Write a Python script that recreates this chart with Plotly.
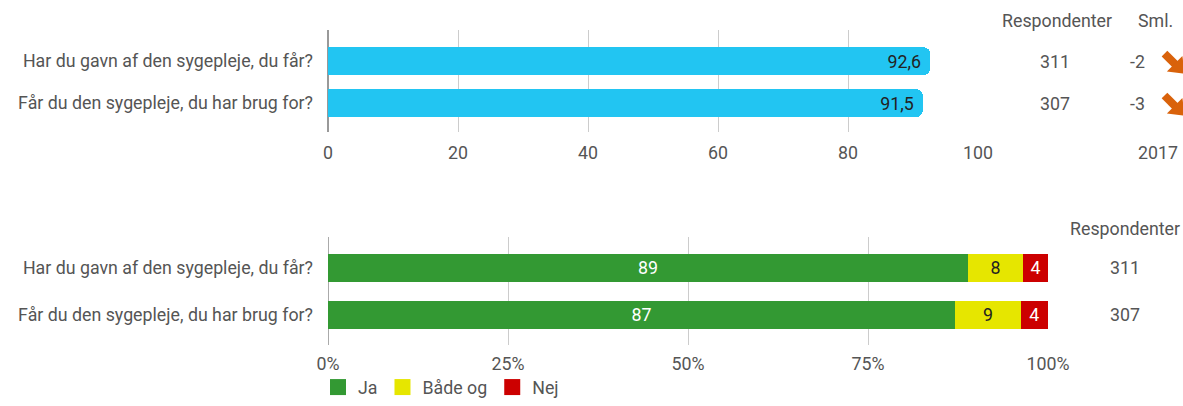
import plotly.graph_objects as go

# ---- data ----
questions = ["Har du gavn af den sygepleje, du får?", "Får du den sygepleje, du har brug for?"]
scores = [92.6, 91.5]
score_labels = ["92,6", "91,5"]
respondents_top = [311, 307]
sml_values = ["-2", "-3"]
sml_year = "2017"
score_ticks = [0, 20, 40, 60, 80, 100]

ja = [88.9, 87.1]
baade = [7.6, 9.1]
nej = [3.5, 3.8]
respondents_bottom = [311, 307]
pct_ticks = [0, 25, 50, 75, 100]
pct_labels = ["0%", "25%", "50%", "75%", "100%"]

W, H = 1183, 406
FONT = "Roboto, Open Sans, sans-serif"
GREY = "#555555"
FS = 17.8
ORANGE = "#d9620b"

def px(x):
    return x / W

def py(y):
    return 1 - y / H

fig = go.Figure()

# top chart
fig.add_trace(go.Bar(
    y=questions, x=scores, orientation="h", xaxis="x", yaxis="y",
    marker=dict(color="#22c5f2", line=dict(width=0), cornerradius=6),
    text=score_labels, texttemplate="%{text}\u00a0", textposition="inside",
    insidetextanchor="end",
    textfont=dict(color="#222222", size=FS, family=FONT),
    width=0.66, showlegend=False, hoverinfo="skip",
))

# bottom stacked chart
series = [("Ja", ja, "#339933", "white"),
          ("Både og", baade, "#e6e600", "#222222"),
          ("Nej", nej, "#cc0000", "white")]
for name, vals, col, tcol in series:
    fig.add_trace(go.Bar(
        y=questions, x=vals, orientation="h", name=name, xaxis="x2", yaxis="y2",
        marker=dict(color=col, line=dict(width=0), cornerradius=0),
        text=[f"{v:.0f}" for v in vals], textposition="inside", insidetextanchor="middle",
        textangle=0,
        textfont=dict(color=tcol, size=FS, family=FONT),
        width=0.58, hoverinfo="skip", constraintext="none", showlegend=False,
    ))
# legend entries with larger square symbols
for name, vals, col, tcol in series:
    fig.add_trace(go.Scatter(
        x=[None], y=[None], xaxis="x2", yaxis="y2", mode="markers", name=name,
        marker=dict(symbol="square", size=16, color=col, line=dict(width=0)),
        showlegend=True, hoverinfo="skip",
    ))

# arrows for Sml. (decline indicator): stem + head
fig.add_trace(go.Scatter(
    x=[1.0] * len(questions), y=questions, xaxis="x3", yaxis="y3", mode="markers",
    marker=dict(symbol="line-ns", angle=135, size=13, standoff=10,
                color=ORANGE, line=dict(width=8, color=ORANGE)),
    showlegend=False, hoverinfo="skip", cliponaxis=False,
))
fig.add_trace(go.Scatter(
    x=[1.0] * len(questions), y=questions, xaxis="x3", yaxis="y3", mode="markers",
    marker=dict(symbol="triangle-up", angle=135, size=19, color=ORANGE, line=dict(width=0)),
    showlegend=False, hoverinfo="skip", cliponaxis=False,
))

top_dom = [py(132), py(30)]
bot_dom = [py(345), py(237)]
arrow_dom = [py(138), py(36)]

fig.update_layout(
    width=W, height=H,
    margin=dict(l=0, r=0, t=0, b=0),
    paper_bgcolor="white", plot_bgcolor="white",
    font=dict(family=FONT, size=FS, color=GREY),
    barmode="stack",
    xaxis=dict(domain=[px(328), px(978)], range=[0, 100], tickvals=score_ticks,
               showgrid=True, gridcolor="#cccccc", gridwidth=1,
               zeroline=True, zerolinecolor="#999999", zerolinewidth=2,
               showline=False, ticks="", ticklabelstandoff=8, anchor="y", automargin=False,
               tickfont=dict(size=FS, color=GREY)),
    yaxis=dict(domain=top_dom, range=[1.69, -0.74], type="category",
               showgrid=False, zeroline=False, showline=False, ticks="", automargin=False,
               ticklabelstandoff=14, anchor="x", tickfont=dict(size=FS, color=GREY)),
    xaxis2=dict(domain=[px(328), px(1048)], range=[0, 100], tickvals=pct_ticks,
                ticktext=pct_labels, showgrid=True, gridcolor="#cccccc", gridwidth=1,
                zeroline=True, zerolinecolor="#aaaaaa", zerolinewidth=1, automargin=False,
                showline=False, ticks="", ticklabelstandoff=6, anchor="y2",
                tickfont=dict(size=FS, color=GREY)),
    yaxis2=dict(domain=bot_dom, range=[1.64, -0.66], type="category", automargin=False,
                showgrid=False, zeroline=False, showline=False, ticks="",
                ticklabelstandoff=14, anchor="x2", tickfont=dict(size=FS, color=GREY)),
    xaxis3=dict(domain=[px(1146), px(1178)], range=[0, 1], visible=False, anchor="y3",
                automargin=False),
    yaxis3=dict(domain=arrow_dom, range=[1.69, -0.74], type="category", visible=False,
                anchor="x3", categoryarray=questions, automargin=False),
    legend=dict(orientation="h", x=px(318), xanchor="left", y=0, yanchor="bottom",
                font=dict(size=FS, color=GREY), traceorder="normal", itemsizing="trace",
                bgcolor="rgba(0,0,0,0)", itemwidth=30),
)

ann = []
# top table
ann.append(dict(x=px(1057), y=py(20), xref="paper", yref="paper", text="Respondenter",
                showarrow=False, xanchor="center", yanchor="middle"))
ann.append(dict(x=px(1155), y=py(20), xref="paper", yref="paper", text="Sml.",
                showarrow=False, xanchor="center", yanchor="middle"))
ann.append(dict(x=px(1158), y=py(152), xref="paper", yref="paper", text=sml_year,
                showarrow=False, xanchor="center", yanchor="middle"))
for q, r, s in zip(questions, respondents_top, sml_values):
    ann.append(dict(x=px(1055), y=q, xref="paper", yref="y", text=str(r),
                    showarrow=False, xanchor="center", yanchor="middle"))
    ann.append(dict(x=px(1147), y=q, xref="paper", yref="y", text=s,
                    showarrow=False, xanchor="right", yanchor="middle"))
# bottom table
ann.append(dict(x=px(1125), y=py(228), xref="paper", yref="paper", text="Respondenter",
                showarrow=False, xanchor="center", yanchor="middle"))
for q, r in zip(questions, respondents_bottom):
    ann.append(dict(x=px(1125), y=q, xref="paper", yref="y2", text=str(r),
                    showarrow=False, xanchor="center", yanchor="middle"))
fig.update_layout(annotations=ann)

fig.write_html("out.html", config={"displayModeBar": False},
               post_script="document.body.style.margin='0px';document.body.style.padding='0px';")
